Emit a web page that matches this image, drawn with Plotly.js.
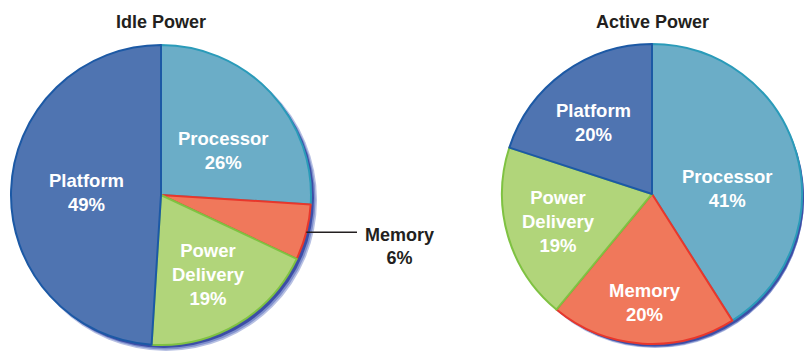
<!DOCTYPE html>
<html>
<head>
<meta charset="utf-8">
<script src="https://cdn.plot.ly/plotly-3.0.1.min.js"></script>
<style>
  html, body { margin: 0; padding: 0; background: #ffffff; }
  #chart { width: 804px; height: 354px; }
</style>
</head>
<body>
<div id="chart"></div>
<script>
// Power breakdown by component, in percent
const categories = ["Processor", "Memory", "Power Delivery", "Platform"];
const idleValues = [26, 6, 19, 49];
const activeValues = [41, 20, 19, 20];
const pieTitles = ["Idle Power", "Active Power"];
const sliceLabels = ["Processor", "Memory", "Power<br>Delivery", "Platform"];

const fillColors = ["#6badc7", "#f0785b", "#b1d57a", "#4f74b1"];
const edgeColors = ["#2a9bb9", "#e8372c", "#7fc242", "#1c59a5"];

const W = 804, H = 354;
const R = 150;
// pie centres in pixels
const centres = [{x: 161, y: 195}, {x: 652, y: 194}];

// where each slice's white label block sits (pixels); null = labelled outside
const labelSpots = [
  [{x: 223, y: 150}, null, {x: 208, y: 274}, {x: 86, y: 192}],
  [{x: 727, y: 188}, {x: 645, y: 302}, {x: 558, y: 221}, {x: 593, y: 123}]
];

function domainFor(c, dx, dy, grow) {
  const r = R + (grow || 0);
  return {
    x: [(c.x - r + dx) / W, (c.x + r + dx) / W],
    y: [(H - c.y - r - dy) / H, (H - c.y + r - dy) / H]
  };
}

// soft drop shadow below and right of each pie, built from stacked discs
function shadow(c, dx, dy, grow, color) {
  return {
    type: "pie", values: [1], labels: ["s"], sort: false,
    domain: domainFor(c, dx, dy, grow),
    marker: {colors: [color], line: {width: 0}},
    textinfo: "none", hoverinfo: "skip", showlegend: false
  };
}

function mainPie(c, values) {
  return {
    type: "pie", values: values, labels: categories, sort: false,
    direction: "clockwise", rotation: 0,
    domain: domainFor(c, 0, 0, 0),
    marker: {colors: fillColors, line: {color: edgeColors, width: 2}},
    textinfo: "none",
    hoverinfo: "label+value", showlegend: false
  };
}

const shadowLayers = [
  {dx: 5, dy: 5, grow: 1, color: "#b7c0e3"},
  {dx: 4.5, dy: 4.5, grow: 0, color: "#7f8fcc"},
  {dx: 3, dy: 3, grow: 0, color: "#3c4ea6"}
];

const data = [];
centres.forEach(c => shadowLayers.forEach(s => data.push(shadow(c, s.dx, s.dy, s.grow, s.color))));
data.push(mainPie(centres[0], idleValues));
data.push(mainPie(centres[1], activeValues));

// Leader line to the small Memory slice of the idle pie, from its mid-angle
const idleTotal = idleValues.reduce((a, b) => a + b, 0);
const memStart = idleValues[0] / idleTotal * 360;
const memMid = (memStart + idleValues[1] / idleTotal * 180) * Math.PI / 180;
const edgeX = centres[0].x + R * Math.sin(memMid);
const edgeY = centres[0].y - R * Math.cos(memMid);

const family = "Liberation Sans, Arial, sans-serif";
const darkFont = {family: family, size: 18, color: "#231f20", weight: "bold"};
const whiteFont = {family: family, size: 18.5, color: "#ffffff", weight: "bold"};

const annotations = [
  {text: pieTitles[0], x: centres[0].x / W, y: 1 - 22 / H},
  {text: pieTitles[1], x: centres[1].x / W, y: 1 - 22 / H},
  {text: categories[1] + "<br>" + idleValues[1] + "%", x: 399 / W, y: 1 - 246 / H}
].map(a => Object.assign(a, {font: darkFont}));

[idleValues, activeValues].forEach((vals, p) => {
  vals.forEach((v, i) => {
    const spot = labelSpots[p][i];
    if (!spot) return;
    annotations.push({text: sliceLabels[i] + "<br>" + v + "%", x: spot.x / W, y: 1 - spot.y / H, font: whiteFont});
  });
});
annotations.forEach(a => Object.assign(a, {
  xref: "paper", yref: "paper", showarrow: false, xanchor: "center", yanchor: "middle"
}));

const layout = {
  width: W, height: H,
  margin: {l: 0, r: 0, t: 0, b: 0},
  paper_bgcolor: "#ffffff",
  shapes: [{
    type: "line", xref: "paper", yref: "paper",
    x0: edgeX / W, y0: 1 - edgeY / H, x1: 357 / W, y1: 1 - edgeY / H,
    line: {color: "#231f20", width: 1.5}
  }],
  annotations: annotations
};

Plotly.newPlot("chart", data, layout, {displayModeBar: false, staticPlot: true});
</script>
</body>
</html>
